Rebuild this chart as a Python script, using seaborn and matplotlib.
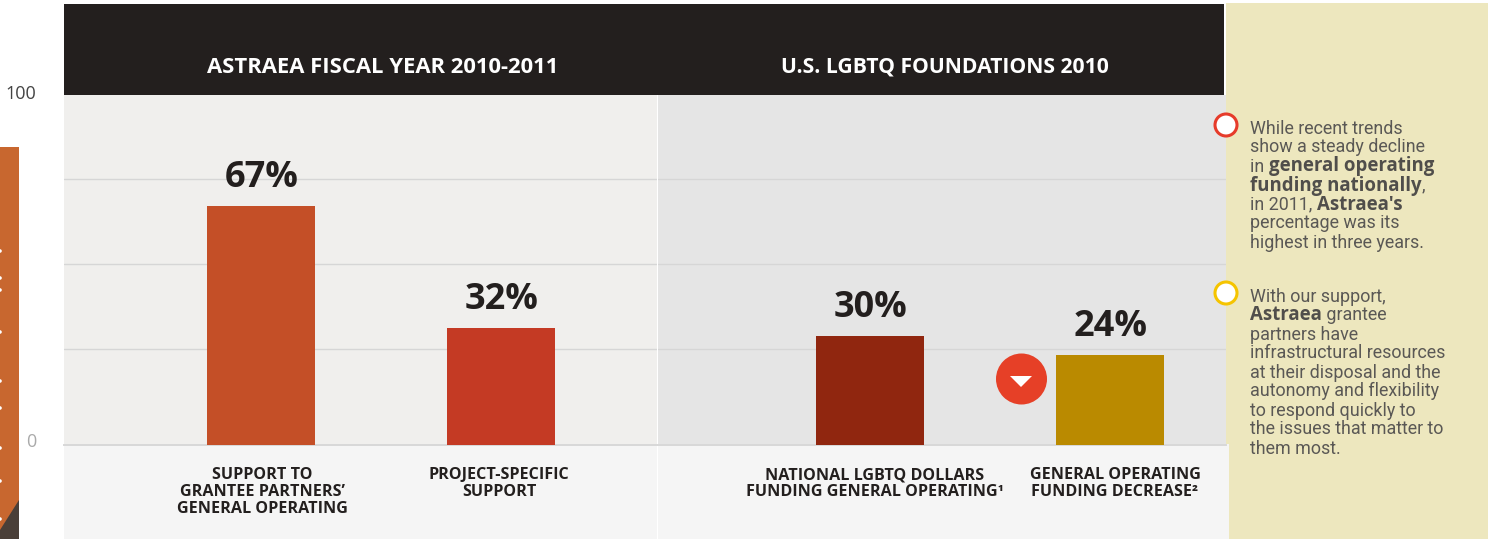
import matplotlib
matplotlib.use("Agg")
import matplotlib.pyplot as plt
import seaborn as sns
import pandas as pd
from matplotlib.patches import Rectangle, Circle, Polygon
from matplotlib.transforms import ScaledTranslation

W, H = 1488, 539

# values printed above the bars
left_cats = ["SUPPORT TO\nGRANTEE PARTNERS’\nGENERAL OPERATING", "PROJECT-SPECIFIC\nSUPPORT"]
left_labels = ["67%", "32%"]
left_heights = [68.2, 33.3]   # drawn height (not quite to scale with the labels)
right_cats = ["NATIONAL LGBTQ DOLLARS\nFUNDING GENERAL OPERATING¹", "GENERAL OPERATING\nFUNDING DECREASE²"]
right_labels = ["30%", "24%"]
right_heights = [31.0, 25.6]
left_colors = ["#c44f27", "#c43a24"]
right_colors = ["#90260f", "#ba8a00"]
grid_vals = [27.3, 51.6, 76.0]

titles = ["ASTRAEA FISCAL YEAR 2010-2011", "U.S. LGBTQ FOUNDATIONS 2010"]

# (text, bold) runs per line
note1 = [
    [("While recent trends", False)],
    [("show a steady decline", False)],
    [("in ", False), ("general operating", True)],
    [("funding nationally", True), (",", False)],
    [("in 2011, ", False), ("Astraea's", True)],
    [("percentage was its", False)],
    [("highest in three years.", False)],
]
note2 = [
    [("With our support,", False)],
    [("Astraea", True), (" grantee", False)],
    [("partners have", False)],
    [("infrastructural resources", False)],
    [("at their disposal and the", False)],
    [("autonomy and flexibility", False)],
    [("to respond quickly to", False)],
    [("the issues that matter to", False)],
    [("them most.", False)],
]

sns.set_theme(style="white")
plt.rcParams["font.family"] = ["Open Sans", "DejaVu Sans"]

fig = plt.figure(figsize=(W / 100, H / 100), dpi=100, facecolor="white")


def px_axes(x0, y0, x1, y1, **kw):
    return fig.add_axes([x0 / W, 1 - y1 / H, (x1 - x0) / W, (y1 - y0) / H], **kw)


# background layer in pixel coords
bg = px_axes(0, 0, W, H, zorder=0)
bg.set_xlim(0, W)
bg.set_ylim(H, 0)
bg.axis("off")
bg.add_patch(Rectangle((1226, 3), 262, H - 3, color="#ede7be", lw=0))
bg.add_patch(Rectangle((64, 444), 1165, 95, color="#f5f5f5", lw=0))
bg.add_patch(Rectangle((64, 4), 1160, 91, color="#231f1e", lw=0))
bg.add_patch(Rectangle((657, 444), 1, 95, color="white", lw=0))
# edge of the previous panel
bg.add_patch(Rectangle((0, 147), 19, H - 147, color="#c8672f", lw=0))
bg.add_patch(Polygon([(19, 500), (19, 539), (0, 539), (0, 530)], color="#4a3f38", lw=0))
for y in [251, 278, 290, 332, 381, 408, 448, 481, 519]:
    bg.add_patch(Circle((0, y), 1.8, color="white", lw=0))


def panel(x0, x1, cats, heights, colors, labels, face, xlim, shifts):
    ax = px_axes(x0, 95, x1, 444.5, zorder=1)
    df = pd.DataFrame({"cat": cats, "val": heights})
    sns.barplot(data=df, x="cat", y="val", hue="cat", palette=colors, legend=False,
                width=0.45, saturation=1, linewidth=0, ax=ax, zorder=3)
    ax.set_facecolor(face)
    ax.set_xlim(*xlim)
    ax.set_ylim(0, 100)
    ax.set_xlabel("")
    ax.set_ylabel("")
    ax.set_yticks(grid_vals)
    ax.set_yticklabels([])
    ax.tick_params(length=0)
    ax.grid(axis="y", color="#d6d6d6", lw=1)
    ax.set_axisbelow(True)
    sns.despine(ax=ax, left=True, top=True, right=True)
    ax.spines["bottom"].set_color("#d8d8d8")
    ax.spines["bottom"].set_linewidth(1.4)
    ax.set_xticks(range(len(cats)))
    ax.set_xticklabels(cats, fontsize=11.6, fontweight="bold", color="#231f1e", linespacing=1.05)
    ax.tick_params(axis="x", pad=16.5)
    # the captions sit a little off the bar centres
    for lab, dx in zip(ax.get_xticklabels(), shifts):
        lab.set_transform(lab.get_transform() + ScaledTranslation(dx / 100, 0, fig.dpi_scale_trans))
    for i, (h, lab) in enumerate(zip(heights, labels)):
        ax.annotate(lab, (i, h), xytext=(0.5, 7), textcoords="offset points", ha="center", va="bottom",
                    fontsize=26, fontweight="bold", color="#231f1e", zorder=5, annotation_clip=False)
    return ax


panel(64, 657, left_cats, left_heights, left_colors, left_labels, "#f0efed", (-0.82, 1.65), [1.5, -2])
panel(658, 1226, right_cats, right_heights, right_colors, right_labels, "#e5e5e5", (-0.883, 1.4833), [5, 5])

# top layer for texts and markers
top = px_axes(0, 0, W, H, zorder=2)
top.set_xlim(0, W)
top.set_ylim(H, 0)
top.axis("off")
top.patch.set_alpha(0)

top.text(383, 67.5, titles[0], color="white", fontsize=15.8, fontweight="bold", ha="center", va="center")
top.text(944.5, 67.5, titles[1], color="white", fontsize=15.2, fontweight="bold", ha="center", va="center")

top.text(36, 94, "100", color="#444444", fontsize=13, ha="right", va="center")
top.text(36, 442, "0", color="#aaaaaa", fontsize=13, ha="right", va="center")

# down arrow badge
top.add_patch(Circle((1021.5, 379), 25.5, color="#e64027", lw=0))
top.add_patch(Polygon([(1010, 376), (1032, 376), (1021, 387)], color="white", lw=0))

# note bullets
top.add_patch(Circle((1226, 125), 11, fc="white", ec="#e63b2a", lw=2.2))
top.add_patch(Circle((1226, 293), 11, fc="white", ec="#f5c400", lw=2.2))

renderer = fig.canvas.get_renderer()


def note(lines, y0, step=19):
    for n, runs in enumerate(lines):
        x = 1250
        y = y0 + n * step
        for txt, bold in runs:
            if bold:
                t = top.text(x, y, txt, fontsize=13.4, color="#504e4b", va="baseline",
                             fontweight="bold", family=["Open Sans", "DejaVu Sans"])
            else:
                t = top.text(x, y, txt, fontsize=12.9, color="#5a5855", va="baseline",
                             family=["Roboto", "DejaVu Sans"])
            x += t.get_window_extent(renderer).width


note(note1, 133.5)
note(note2, 301.5)

fig.savefig("out.png", dpi=100)
